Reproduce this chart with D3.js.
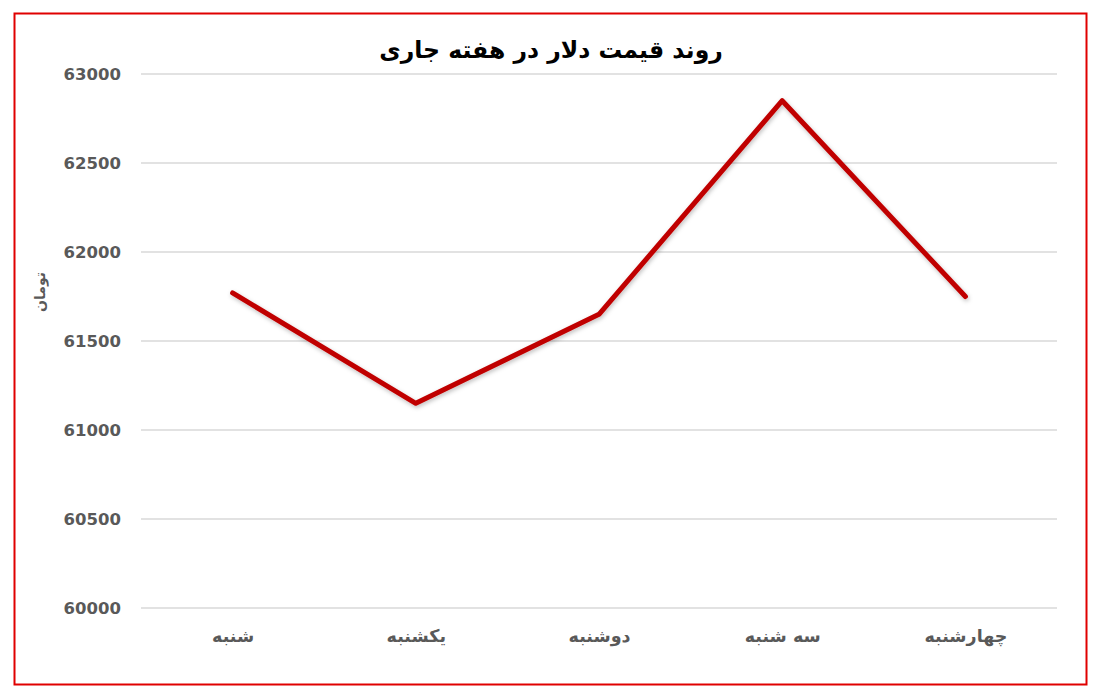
<!DOCTYPE html>
<html><head><meta charset="utf-8">
<script src="https://cdn.jsdelivr.net/npm/d3@7"></script>
<style>body{margin:0;background:#fff}svg{display:block}</style>
</head><body>
<svg id="c" width="1096" height="695"></svg>
<script>
const categories = ["شنبه","یکشنبه","دوشنبه","سه شنبه","چهارشنبه"];
const values = [61770, 61150, 61650, 62850, 61750];
const yTicks = [60000,60500,61000,61500,62000,62500,63000];
const title = "روند قیمت دلار در هفته جاری";
const yLabel = "تومان";

const svg = d3.select("#c");
svg.append("rect").attr("x",0).attr("y",0).attr("width",1096).attr("height",695).attr("fill","#fff");
svg.append("rect").attr("x",14.5).attr("y",13.5).attr("width",1072).attr("height",671)
  .attr("fill","none").attr("stroke","#e00000").attr("stroke-width",2);

const x = d3.scalePoint().domain(categories).range([141,1057]).padding(0.5);
const y = d3.scaleLinear().domain([60000,63000]).range([608,74]);

const defs = svg.append("defs");
const f = defs.append("filter").attr("id","sh").attr("x","-10%").attr("y","-10%").attr("width","120%").attr("height","130%");
f.append("feDropShadow").attr("dx",1).attr("dy",2).attr("stdDeviation",2).attr("flood-color","#000").attr("flood-opacity",0.25);

// grid
const grid = svg.append("g");
grid.selectAll("line").data(yTicks).join("line")
  .attr("x1",141).attr("x2",1057).attr("y1",d=>y(d)).attr("y2",d=>y(d))
  .attr("stroke","#d9d9d9").attr("stroke-width",1.3);

// y axis
const yAxis = svg.append("g").attr("transform","translate(121,0)")
  .call(d3.axisLeft(y).tickValues(yTicks).tickSize(0).tickPadding(0).tickFormat(d=>String(d)));
yAxis.select(".domain").remove();
yAxis.selectAll("text").attr("fill","#595959").attr("font-family","DejaVu Sans").attr("font-weight","bold").attr("font-size","16.5px").attr("dy","0.35em");

// x axis
const xAxis = svg.append("g").attr("transform","translate(0,636)")
  .call(d3.axisBottom(x).tickSize(0).tickPadding(0));
xAxis.select(".domain").remove();
xAxis.selectAll("text").attr("fill","#595959").attr("font-family","DejaVu Sans").attr("font-weight","bold").attr("font-size","17.5px").attr("dy","0.35em").attr("direction","rtl").attr("text-anchor","middle");

// line
const line = d3.line().x((d,i)=>x(categories[i])).y(d=>y(d));
svg.append("path").datum(values).attr("d",line).attr("fill","none")
  .attr("stroke","#c00000").attr("stroke-width",5).attr("stroke-linejoin","round").attr("stroke-linecap","round")
  .attr("filter","url(#sh)");

// title
svg.append("text").attr("x",551).attr("y",51).attr("text-anchor","middle").attr("dominant-baseline","middle")
  .attr("direction","rtl").attr("font-family","DejaVu Sans").attr("font-weight","bold").attr("font-size","23.5px").attr("fill","#000").text(title);

// y label
svg.append("text").attr("transform","translate(41,292) rotate(-90)").attr("text-anchor","middle").attr("dominant-baseline","middle")
  .attr("direction","rtl").attr("font-family","DejaVu Sans").attr("font-weight","bold").attr("font-size","14px").attr("fill","#595959").text(yLabel);
</script>
</body></html>
